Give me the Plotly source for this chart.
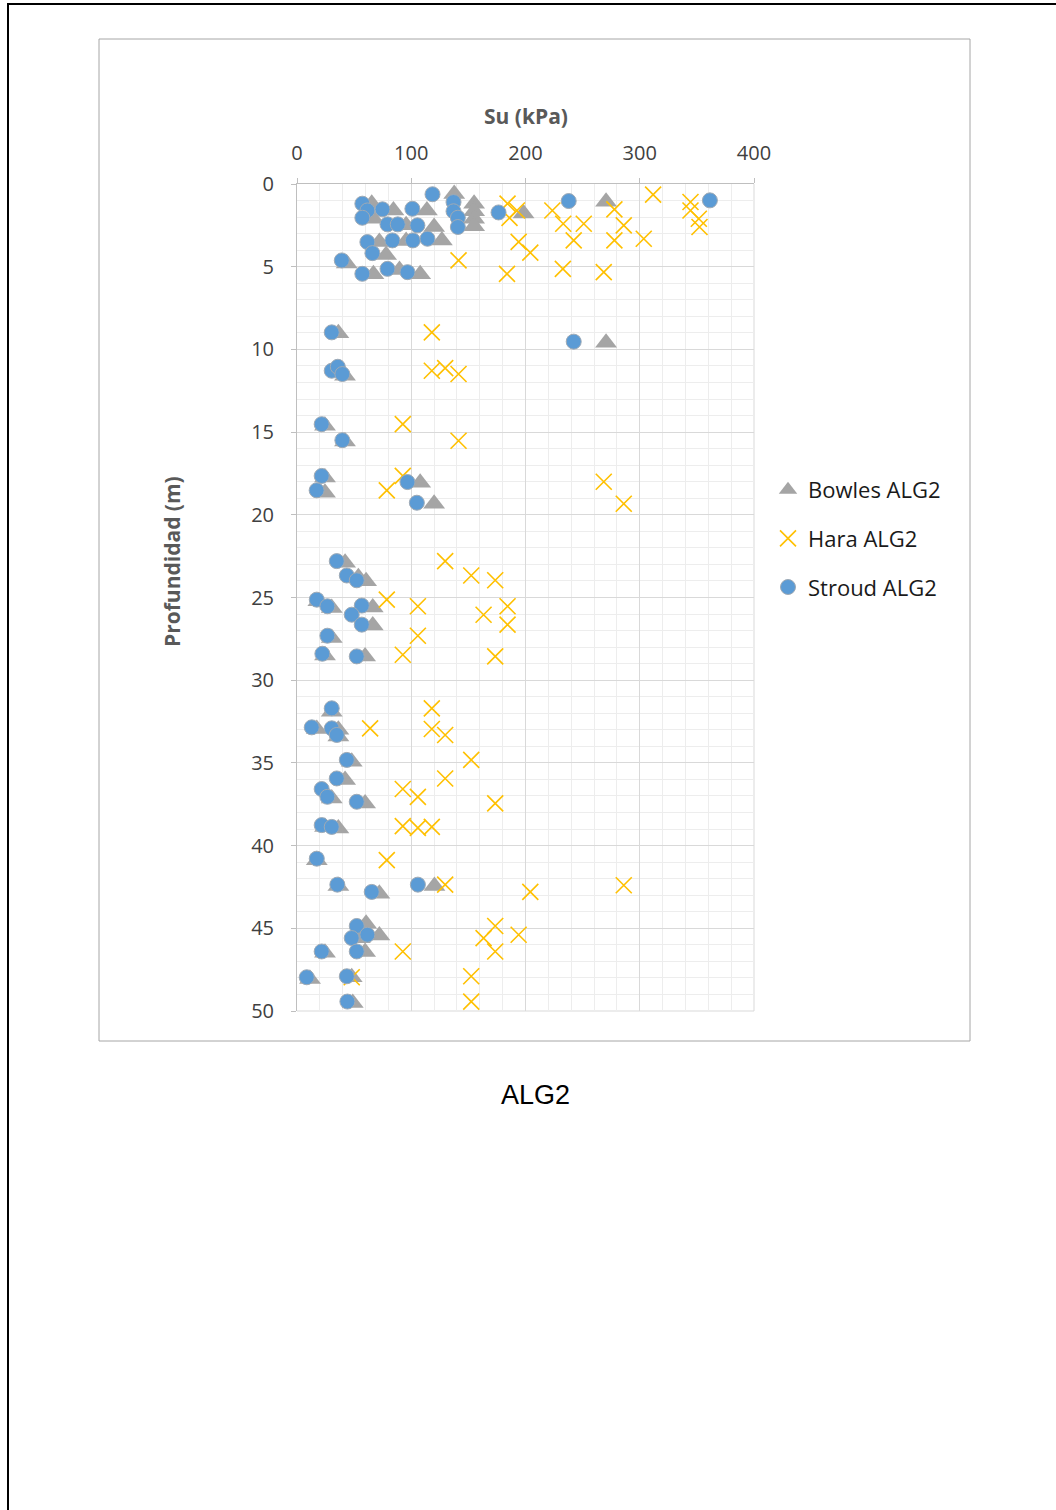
import plotly.graph_objects as go

# Undrained shear strength Su (kPa) versus depth (m), ALG2 borehole
bowles_su = [137.6, 65.4, 66.9, 84.4, 113.7, 95.5, 120.0, 155.0, 155.0, 155.0, 155.0, 198.3, 270.5,
             126.8, 95.5, 72.1, 78.0, 43.5, 66.9, 89.7, 107.8,
             36.2, 270.5, 36.0, 42.0, 24.5, 42.0, 24.5, 24.5, 107.8, 120.0,
             42.1, 53.7, 60.5, 18.7, 30.4, 66.3, 66.3, 30.4, 24.5, 59.6,
             30.4, 17.3, 36.2, 36.2, 47.9, 42.1, 30.4, 59.6, 24.5, 36.2, 17.3,
             36.2, 72.1, 120.3, 60.5, 72.1, 59.6, 24.5, 11.4, 47.9, 48.8, 55.0]
bowles_depth = [0.6, 1.2, 2.1, 1.6, 1.6, 2.5, 2.6, 1.2, 1.65, 2.1, 2.55, 1.78, 1.07,
                3.41, 3.45, 3.5, 4.3, 4.8, 5.45, 5.2, 5.45,
                9.03, 9.6, 11.3, 11.6, 14.62, 15.57, 17.75, 18.67, 18.06, 19.33,
                22.9, 23.78, 24.02, 25.23, 25.64, 25.6, 26.7, 27.45, 28.5, 28.56,
                31.9, 32.95, 33.0, 33.41, 34.93, 36.04, 37.15, 37.45, 38.87, 38.97, 40.88,
                42.44, 42.91, 42.44, 44.73, 45.43, 46.44, 46.48, 48.06, 47.96, 49.52, 45.6]

hara_su = [311.7, 184.3, 192.5, 186.0, 223.5, 233.0, 251.0, 194.0, 204.2, 242.2, 183.8, 232.7, 268.5,
           277.8, 286.0, 277.8, 303.5, 344.4, 344.4, 351.7, 352.3, 141.4,
           118.0, 118.0, 129.7, 141.4, 92.6, 141.4, 92.6, 78.6, 268.5, 286.0,
           129.7, 152.5, 173.5, 78.6, 105.8, 184.3, 163.3, 184.3, 105.8, 92.6, 173.5,
           118.0, 64.0, 118.0, 129.7, 152.5, 129.7, 92.6, 105.8, 173.5, 92.6, 105.8, 118.0, 78.6,
           129.7, 204.2, 286.0, 173.5, 163.3, 194.0, 173.5, 92.6, 47.9, 152.5, 152.5]
hara_depth = [0.64, 1.19, 1.6, 2.05, 1.6, 2.4, 2.4, 3.5, 4.15, 3.41, 5.43, 5.13, 5.33,
              1.53, 2.5, 3.41, 3.31, 1.09, 1.6, 2.1, 2.6, 4.62,
              8.97, 11.29, 11.13, 11.49, 14.52, 15.52, 17.65, 18.52, 18.0, 19.33,
              22.8, 23.67, 23.96, 25.13, 25.53, 25.53, 26.04, 26.64, 27.31, 28.46, 28.56,
              31.7, 32.91, 32.95, 33.31, 34.82, 35.94, 36.58, 37.05, 37.45, 38.82, 38.93, 38.87, 40.88,
              42.36, 42.8, 42.4, 44.86, 45.59, 45.39, 46.4, 46.4, 47.96, 47.9, 49.43]

stroud_su = [118.6, 57.2, 61.6, 57.2, 74.8, 101.0, 79.2, 88.2, 105.4, 137.0, 137.0, 140.8, 140.8,
             176.4, 237.8, 361.4, 61.6, 83.5, 101.4, 114.2, 66.0, 39.2, 57.2, 79.2, 96.7,
             30.4, 242.2, 30.4, 35.7, 39.7, 21.6, 39.7, 21.6, 17.2, 96.7, 104.9,
             34.8, 43.6, 52.3, 17.3, 26.6, 56.7, 47.9, 56.7, 26.6, 22.2, 52.3,
             30.4, 12.9, 30.4, 34.8, 43.6, 34.8, 21.6, 26.6, 52.3, 21.6, 30.4, 17.3,
             35.3, 65.4, 105.8, 52.3, 47.9, 61.6, 52.3, 21.6, 8.5, 43.6, 44.1]
stroud_depth = [0.62, 1.19, 1.6, 2.04, 1.53, 1.5, 2.44, 2.44, 2.5, 1.09, 1.65, 2.04, 2.6,
                1.72, 1.03, 0.99, 3.51, 3.41, 3.41, 3.31, 4.18, 4.62, 5.43, 5.13, 5.33,
                8.97, 9.53, 11.29, 11.05, 11.49, 14.52, 15.49, 17.65, 18.52, 18.02, 19.27,
                22.8, 23.67, 23.96, 25.13, 25.53, 25.49, 26.04, 26.64, 27.31, 28.4, 28.56,
                31.7, 32.85, 32.91, 33.31, 34.82, 35.94, 36.58, 37.05, 37.35, 38.76, 38.87, 40.79,
                42.36, 42.8, 42.36, 44.86, 45.59, 45.39, 46.4, 46.4, 47.96, 47.9, 49.43]

x_ticks = [0, 100, 200, 300, 400]
y_ticks = [0, 5, 10, 15, 20, 25, 30, 35, 40, 45, 50]

FONT = "Open Sans"
W, H = 1056, 1510
L, R, T, B = 297, 754, 184, 1011   # plot area edges in pixels


def px_x(p):
    return (p - L) / (R - L)


def px_y(p):
    return (B - p) / (B - T)


fig = go.Figure()

fig.add_trace(go.Scatter(
    x=bowles_su, y=bowles_depth, mode="markers", name="Bowles ALG2",
    legendgroup="b",
    marker=dict(symbol="triangle-up", size=19, color="#A5A5A5",
                line=dict(width=0)),
))
fig.add_trace(go.Scatter(
    x=hara_su, y=hara_depth, mode="markers", name="Hara ALG2",
    legendgroup="h",
    marker=dict(symbol="x-thin", size=16, color="#FFC000",
                line=dict(width=1.6, color="#FFC000")),
))
fig.add_trace(go.Scatter(
    x=stroud_su, y=stroud_depth, mode="markers", name="Stroud ALG2",
    legendgroup="s",
    marker=dict(symbol="circle", size=15, color="#5B9BD5",
                line=dict(width=1, color="#9FAAB5")),
))

axis_common = dict(
    showgrid=True, gridcolor="#D9D9D9", gridwidth=1,
    showline=True, linecolor="#BFBFBF", linewidth=1,
    ticks="outside", ticklen=5, tickcolor="#BFBFBF",
    tickfont=dict(family=FONT, size=20, color="#404040"),
    zeroline=False, mirror=False,
)

fig.update_xaxes(
    range=[0, 400], side="top", tickvals=x_ticks,
    minor=dict(dtick=20, showgrid=True, gridcolor="#EDEDED", gridwidth=1),
    ticklabelstandoff=10,
    **axis_common,
)
fig.update_yaxes(
    range=[50, 0], tickvals=y_ticks,
    minor=dict(dtick=1, showgrid=True, gridcolor="#EDEDED", gridwidth=1),
    ticklabelstandoff=13,
    **axis_common,
)

shapes = [
    # page frame
    dict(type="rect", xref="paper", yref="paper",
         x0=px_x(8), x1=px_x(1070), y0=px_y(1530), y1=px_y(4),
         line=dict(color="black", width=2), layer="below"),
    # chart frame
    dict(type="rect", xref="paper", yref="paper",
         x0=px_x(99), x1=px_x(970), y0=px_y(1041), y1=px_y(39),
         line=dict(color="#A6A6A6", width=1), layer="below"),
    # right and bottom plot borders
    dict(type="line", xref="paper", yref="paper",
         x0=1, x1=1, y0=0, y1=1, line=dict(color="#D9D9D9", width=1), layer="below"),
    dict(type="line", xref="paper", yref="paper",
         x0=0, x1=1, y0=0, y1=0, line=dict(color="#D9D9D9", width=1), layer="below"),
]

annotations = [
    dict(text="<b>Su (kPa)</b>", xref="paper", yref="paper",
         x=px_x(526), y=px_y(116), showarrow=False,
         font=dict(family=FONT, size=21, color="#595959"),
         xanchor="center", yanchor="middle"),
    dict(text="<b>Profundidad (m)</b>", xref="paper", yref="paper",
         x=px_x(172), y=px_y(562), showarrow=False, textangle=-90,
         font=dict(family=FONT, size=21, color="#595959"),
         xanchor="center", yanchor="middle"),
    dict(text="ALG2", xref="paper", yref="paper",
         x=px_x(535), y=px_y(1095), showarrow=False,
         font=dict(family="Liberation Sans", size=27, color="black"),
         xanchor="center", yanchor="middle"),
]

fig.update_layout(
    width=W, height=H,
    margin=dict(l=L, r=W - R, t=T, b=H - B, pad=0),
    paper_bgcolor="white", plot_bgcolor="white",
    showlegend=True,
    legend=dict(
        x=px_x(768), y=px_y(469), xanchor="left", yanchor="top",
        font=dict(family=FONT, size=22, color="#1a1a1a"),
        traceorder="grouped", tracegroupgap=17,
        itemwidth=30, bgcolor="rgba(0,0,0,0)",
    ),
    shapes=shapes, annotations=annotations,
)

fig.write_html("out.html")
